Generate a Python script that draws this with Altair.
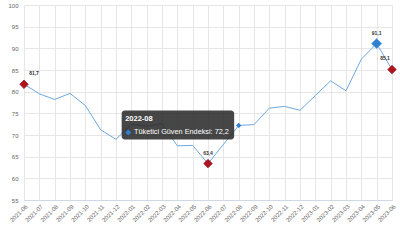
import altair as alt
import pandas as pd

months = ["2021-06", "2021-07", "2021-08", "2021-09", "2021-10", "2021-11", "2021-12",
          "2022-01", "2022-02", "2022-03", "2022-04", "2022-05", "2022-06", "2022-07",
          "2022-08", "2022-09", "2022-10", "2022-11", "2022-12", "2023-01", "2023-02",
          "2023-03", "2023-04", "2023-05", "2023-06"]
values = [81.7, 79.5, 78.2, 79.6, 76.8, 71.2, 69.0, 72.5, 72.0, 72.6, 67.5, 67.6, 63.4,
          67.8, 72.2, 72.4, 76.2, 76.6, 75.7, 79.1, 82.5, 80.2, 87.5, 91.1, 85.1]
y_ticks = [55, 60, 65, 70, 75, 80, 85, 90, 95, 100]
series_name = "Tüketici Güven Endeksi"
red_months = ["2021-06", "2022-06", "2023-06"]
max_month = "2023-05"
hover_month = "2022-08"
first_month = "2021-06"
last_month = "2023-06"

df = pd.DataFrame({"month": months, "value": values})
df["label"] = df["value"].map(lambda v: f"{v:.1f}".replace(".", ","))
df["tip"] = series_name + ": " + df["label"]

FONT = "Liberation Sans"
LINE = "#6fa8de"

x_enc = alt.X("month:O", scale=alt.Scale(type="point", padding=0),
              axis=alt.Axis(title=None, labelAngle=-45, labelFontSize=6, labelColor="#666666",
                            labelFont=FONT, grid=True, gridColor="#e6e6e6", domainColor="#d0d8e6",
                            ticks=False, labelPadding=3, labelOverlap=False))
y_enc = alt.Y("value:Q", scale=alt.Scale(domain=[55, 100], nice=False, zero=False),
              axis=alt.Axis(title=None, values=y_ticks, labelFontSize=6, labelColor="#666666",
                            labelFont=FONT, grid=True, gridColor="#e6e6e6", domain=False,
                            ticks=False, labelPadding=6, labelOverlap=False, tickCount=10))

base = alt.Chart(df).encode(x=x_enc, y=y_enc)

line = base.mark_line(color=LINE, strokeWidth=1)

red_pts = base.transform_filter(alt.FieldOneOfPredicate(field="month", oneOf=red_months)).mark_point(
    shape="diamond", size=72, filled=True, color="#b3121c", stroke="#8e1a2a", strokeWidth=0.8, opacity=1)

max_pt = base.transform_filter(alt.datum.month == max_month).mark_point(
    shape="diamond", size=100, filled=True, color="#2f7fd1", stroke="#5b9be0", strokeWidth=0.8, opacity=1)

hover_pt = base.transform_filter(alt.datum.month == hover_month).mark_point(
    shape="diamond", size=28, filled=True, color="#2f7fd1", opacity=1)

lbl_months_mid = [m for m in red_months + [max_month] if m not in (first_month, last_month)]
lbl_mid = base.transform_filter(alt.FieldOneOfPredicate(field="month", oneOf=lbl_months_mid)).mark_text(
    font=FONT, fontSize=5, fontWeight="bold", color="#333333", dy=-11, baseline="middle").encode(text="label:N")
lbl_first = base.transform_filter(alt.datum.month == first_month).mark_text(
    font=FONT, fontSize=5, fontWeight="bold", color="#333333", dx=10, dy=-11, baseline="middle").encode(text="label:N")
lbl_last = base.transform_filter(alt.datum.month == last_month).mark_text(
    font=FONT, fontSize=5, fontWeight="bold", color="#333333", dx=-7, dy=-12, baseline="middle").encode(text="label:N")

tip_base = base.transform_filter(alt.datum.month == hover_month)
tip_box = tip_base.mark_rect(fill="#262626", opacity=0.85, cornerRadius=3,
                             xOffset=-117, x2Offset=-4.5, yOffset=-15, y2Offset=14).encode(
    x2="month", y2="value")
tip_title = tip_base.mark_text(font=FONT, fontSize=7.5, fontWeight="bold", color="#ffffff",
                               align="left", baseline="alphabetic", dx=-113.5, dy=-4.5).encode(
    text="month:N")
tip_diamond = tip_base.mark_point(shape="diamond", size=36, filled=True, color="#2f7fd1", opacity=1,
                                  xOffset=-110.4, yOffset=7)
tip_text = tip_base.mark_text(font=FONT, fontSize=7.3, color="#ffffff", align="left", baseline="middle",
                              dx=-104.7, dy=6.8).encode(text="tip:N")

chart = alt.layer(line, red_pts, max_pt, hover_pt, lbl_mid, lbl_first, lbl_last,
                  tip_box, tip_title, tip_diamond, tip_text).properties(
    width=368, height=195,
    autosize=alt.AutoSizeParams(type="none"),
    padding={"left": 24, "top": 5, "right": 8, "bottom": 47},
    background="#ffffff",
).configure_view(stroke=None)

chart.save("out.html", embed_options={"renderer": "svg", "actions": False})
